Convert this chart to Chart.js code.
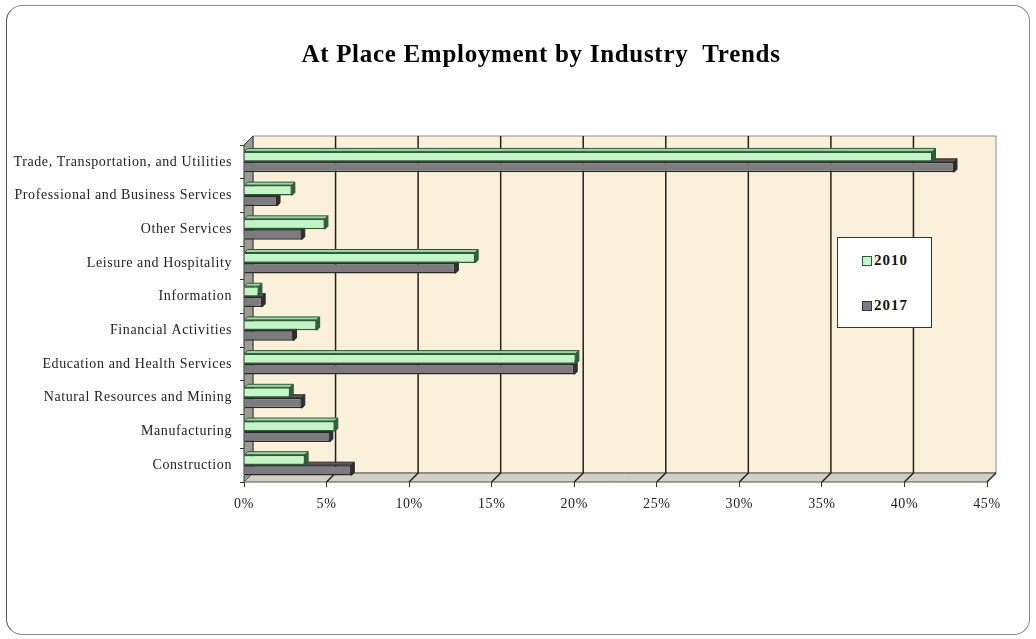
<!DOCTYPE html>
<html>
<head>
<meta charset="utf-8">
<script src="https://cdn.jsdelivr.net/npm/chart.js@4"></script>
<style>
  html, body { margin: 0; padding: 0; background: #fff; }
  #wrap { position: relative; width: 1036px; height: 639px; }
  #cadre { position: absolute; left: 6px; top: 5px; width: 1022px; height: 628px;
           border: 1px solid #8a8a8a; border-left-color: #555; border-radius: 16px; pointer-events: none; }
  #legende { position: absolute; left: 837px; top: 237px; width: 93px; height: 89px;
             background: #fff; border: 1px solid #333; font: bold 15px 'Liberation Serif', serif;
             letter-spacing: 1px; color: #111; }
  .item { position: absolute; left: 24px; display: flex; align-items: center; }
  .carre { width: 8px; height: 8px; margin-right: 2px; border: 1px solid #333; }
</style>
</head>
<body>
<div id="wrap">
  <canvas id="graphique"></canvas>
  <div id="cadre"></div>
  <div id="legende">
    <div class="item" style="top:14px"><span class="carre" style="background:#c4f5c6;border-color:#2d5a3a"></span>2010</div>
    <div class="item" style="top:59px"><span class="carre" style="background:#7b7b80"></span>2017</div>
  </div>
</div>
<script>
const categories = [
  'Trade, Transportation, and Utilities',
  'Professional and Business Services',
  'Other Services',
  'Leisure and Hospitality',
  'Information',
  'Financial Activities',
  'Education and Health Services',
  'Natural Resources and Mining',
  'Manufacturing',
  'Construction'
];
const valeurs2010 = [41.7, 2.9, 4.9, 14.0, 0.9, 4.4, 20.1, 2.8, 5.5, 3.7];
const valeurs2017 = [43.0, 2.0, 3.5, 12.8, 1.1, 3.0, 20.0, 3.5, 5.2, 6.5];
const ticksX = [0, 5, 10, 15, 20, 25, 30, 35, 40, 45];
const titre = 'At Place Employment by Industry  Trends';

const PROF = 9;   // profondeur des murs
const PROF_BARRE = 3;

const couleurs = {
  v2010: { face: '#c4f5c6', bord: '#2d5a3a', dessus: '#9ed4a3', cote: '#2f5f3c' },
  v2017: { face: '#7b7b80', bord: '#2a2a2a', dessus: '#5b5b5e', cote: '#2e2e30' }
};

const police = "'Liberation Serif', 'Times New Roman', serif";

// texte un peu plus large, comme dans l'original
const espacement = {
  id: 'espacement',
  beforeLayout(chart) { chart.ctx.letterSpacing = '0.6px'; },
  beforeDraw(chart) { chart.ctx.letterSpacing = '0.6px'; }
};

// titre centré comme dans l'original
const titrePlugin = {
  id: 'titrePlugin',
  afterDraw(chart) {
    const ctx = chart.ctx;
    ctx.save();
    ctx.letterSpacing = '0.7px';
    ctx.font = 'bold 25px ' + police;
    ctx.fillStyle = '#000';
    ctx.textAlign = 'center';
    ctx.textBaseline = 'middle';
    ctx.fillText(titre, 541, 56);
    ctx.restore();
  }
};

// murs 3D + grille
const murs3D = {
  id: 'murs3D',
  beforeDatasetsDraw(chart) {
    const { ctx, chartArea: a, scales: { x } } = chart;
    const d = PROF;
    ctx.save();
    // mur du fond
    ctx.fillStyle = '#fbf0da';
    ctx.fillRect(a.left + d, a.top - d, a.right - a.left, a.bottom - a.top);
    ctx.strokeStyle = '#8c8c8c';
    ctx.lineWidth = 1;
    ctx.strokeRect(a.left + d, a.top - d, a.right - a.left, a.bottom - a.top);
    // mur gauche
    ctx.beginPath();
    ctx.moveTo(a.left, a.top);
    ctx.lineTo(a.left + d, a.top - d);
    ctx.lineTo(a.left + d, a.bottom - d);
    ctx.lineTo(a.left, a.bottom);
    ctx.closePath();
    ctx.fillStyle = '#9d9c94';
    ctx.fill();
    ctx.strokeStyle = '#333';
    ctx.stroke();
    // sol
    ctx.beginPath();
    ctx.moveTo(a.left, a.bottom);
    ctx.lineTo(a.right, a.bottom);
    ctx.lineTo(a.right + d, a.bottom - d);
    ctx.lineTo(a.left + d, a.bottom - d);
    ctx.closePath();
    ctx.fillStyle = '#d2cfc4';
    ctx.fill();
    ctx.strokeStyle = '#555';
    ctx.stroke();
    // lignes de grille verticales
    ctx.strokeStyle = '#222';
    ctx.lineWidth = 1.5;
    ticksX.forEach(v => {
      if (v === 0) return;
      const px = x.getPixelForValue(v);
      ctx.beginPath();
      ctx.moveTo(px, a.bottom);
      ctx.lineTo(px + d, a.bottom - d);
      if (v !== 45) ctx.lineTo(px + d, a.top - d);
      ctx.stroke();
    });
    // faces 3D des barres
    const cles = ['v2010', 'v2017'];
    [1, 0].forEach(i => {
      const c = couleurs[cles[i]];
      chart.getDatasetMeta(i).data.forEach(b => {
        const h = b.height / 2;
        const haut = b.y - h, bas = b.y + h;
        const e = PROF_BARRE;
        ctx.lineWidth = 1;
        ctx.strokeStyle = c.bord;
        ctx.beginPath();
        ctx.moveTo(b.base, haut);
        ctx.lineTo(b.x, haut);
        ctx.lineTo(b.x + e, haut - e);
        ctx.lineTo(b.base + e, haut - e);
        ctx.closePath();
        ctx.fillStyle = c.dessus;
        ctx.fill();
        ctx.stroke();
        ctx.beginPath();
        ctx.moveTo(b.x, haut);
        ctx.lineTo(b.x + e, haut - e);
        ctx.lineTo(b.x + e, bas - e);
        ctx.lineTo(b.x, bas);
        ctx.closePath();
        ctx.fillStyle = c.cote;
        ctx.fill();
        ctx.stroke();
      });
    });
    ctx.restore();
  }
};

new Chart(document.getElementById('graphique'), {
  type: 'bar',
  data: {
    labels: categories,
    datasets: [
      {
        label: '2010',
        data: valeurs2010,
        backgroundColor: couleurs.v2010.face,
        borderColor: couleurs.v2010.bord,
        borderWidth: 1.5,
        categoryPercentage: 0.62,
        barPercentage: 1.0
      },
      {
        label: '2017',
        data: valeurs2017,
        backgroundColor: couleurs.v2017.face,
        borderColor: couleurs.v2017.bord,
        borderWidth: 1.5,
        categoryPercentage: 0.62,
        barPercentage: 1.0
      }
    ]
  },
  options: {
    indexAxis: 'y',
    responsive: true,
    maintainAspectRatio: false,
    animation: false,
    layout: { padding: { left: 0, right: 49, top: 145, bottom: 0 } },
    plugins: {
      legend: { display: false },
      tooltip: { enabled: false },
      title: { display: false }
    },
    scales: {
      x: {
        min: 0,
        max: 45,
        afterBuildTicks: (s) => { s.ticks = ticksX.map(v => ({ value: v })); },
        afterFit: (s) => { s.height = 157; },
        border: { display: false },
        grid: { drawOnChartArea: false, color: '#333', tickLength: 5 },
        ticks: {
          padding: 9,
          color: '#222',
          font: { family: police, size: 14 },
          callback: (v) => v + '%'
        }
      },
      y: {
        afterFit: (s) => { s.width = 244; },
        border: { display: false },
        grid: { drawOnChartArea: false, color: '#333', tickLength: 4 },
        ticks: {
          padding: 8,
          color: '#222',
          font: { family: police, size: 14 }
        }
      }
    }
  },
  plugins: [espacement, murs3D, titrePlugin]
});
</script>
</body>
</html>
